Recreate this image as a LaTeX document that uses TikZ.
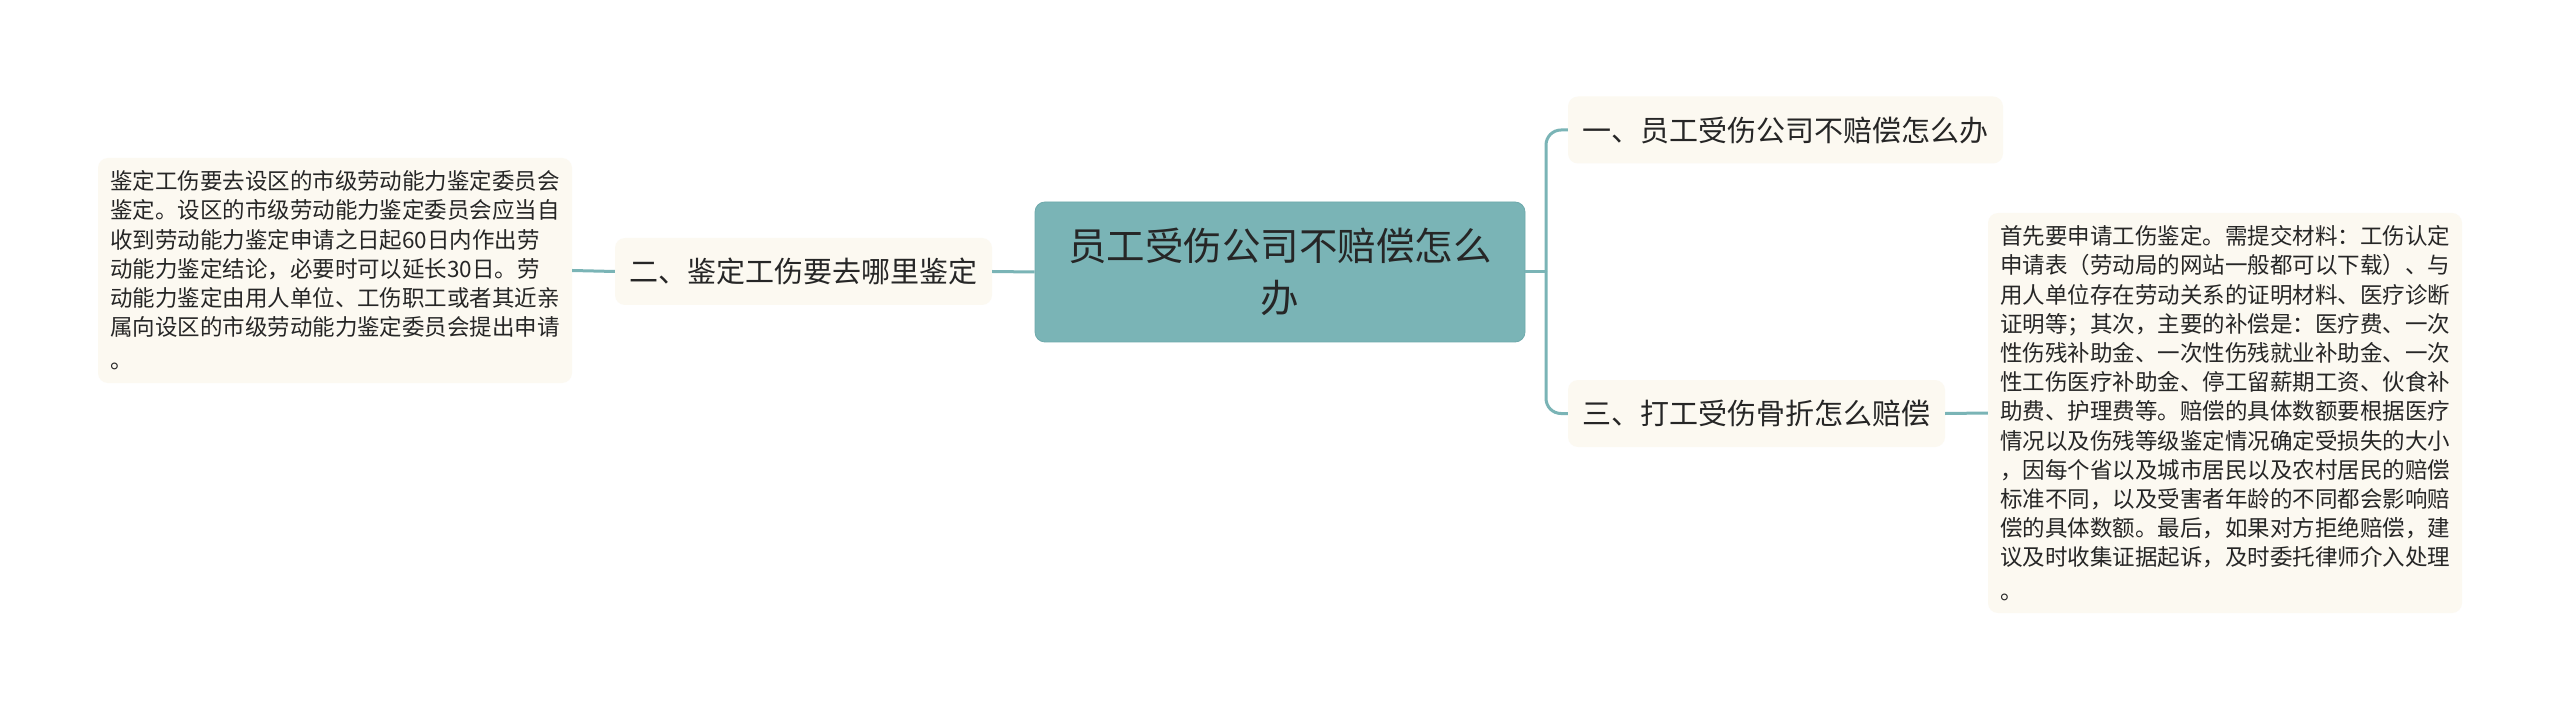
\documentclass[tikz,border=0pt]{standalone}
\usepackage{fontspec}
\setmainfont{Noto Sans CJK SC}
\definecolor{teal1}{HTML}{7AB4B6}
\definecolor{tealdark}{HTML}{6EA9AB}
\definecolor{cream}{HTML}{FCF9F1}
\definecolor{txt}{HTML}{262626}
\tikzset{
  conn/.style={draw=teal1, line width=3pt},
  rootbox/.style={fill=teal1, draw=tealdark, line width=0.8pt, rounded corners=10pt, inner sep=0pt, align=center, text=txt,
    font=\fontsize{38.5}{52}\selectfont, minimum width=490pt, minimum height=140pt},
  topic/.style={fill=cream, rounded corners=10pt, inner sep=0pt, text=txt,
    font=\fontsize{29}{36}\selectfont, minimum height=67pt},
  detail/.style={fill=cream, rounded corners=10pt, inner sep=0pt, text=txt, align=left,
    font=\fontsize{22.5}{29.2}\selectfont, minimum width=474pt}
}
\begin{document}
\begin{tikzpicture}[x=1pt,y=-1pt]
\fill[white] (0,0) rectangle (2560,711);
\useasboundingbox (0,0) rectangle (2560,711);

\node[rootbox] (root) at (1280,272) {员工受伤公司不赔偿怎么\\办};

\node[topic, minimum width=435pt] (t1) at (1785.5,130) {一、员工受伤公司不赔偿怎么办};
\node[topic, minimum width=377pt] (t2) at (803.5,271.5) {二、鉴定工伤要去哪里鉴定};
\node[topic, minimum width=377pt] (t3) at (1756.5,413.5) {三、打工受伤骨折怎么赔偿};

\node[detail, minimum height=225pt] (d2) at (335,270.5) {鉴定工伤要去设区的市级劳动能力鉴定委员会\\
鉴定。设区的市级劳动能力鉴定委员会应当自\\
收到劳动能力鉴定申请之日起60日内作出劳\\
动能力鉴定结论，必要时可以延长30日。劳\\
动能力鉴定由用人单位、工伤职工或者其近亲\\
属向设区的市级劳动能力鉴定委员会提出申请\\[4pt]
。};

\node[detail, minimum height=400pt] (d3) at (2225,413) {首先要申请工伤鉴定。需提交材料：工伤认定\\
申请表（劳动局的网站一般都可以下载）、与\\
用人单位存在劳动关系的证明材料、医疗诊断\\
证明等；其次，主要的补偿是：医疗费、一次\\
性伤残补助金、一次性伤残就业补助金、一次\\
性工伤医疗补助金、停工留薪期工资、伙食补\\
助费、护理费等。赔偿的具体数额要根据医疗\\
情况以及伤残等级鉴定情况确定受损失的大小\\
，因每个省以及城市居民以及农村居民的赔偿\\
标准不同，以及受害者年龄的不同都会影响赔\\
偿的具体数额。最后，如果对方拒绝赔偿，建\\
议及时收集证据起诉，及时委托律师介入处理\\[4pt]
。};

\coordinate (trunk) at (1546,272);
\draw[conn] (root.west) -- (t2.east);
\draw[conn] (t2.west) -- (d2.east);
\draw[conn] (root.east) -- (trunk);
\draw[conn, rounded corners=15pt] (trunk) |- (t1.west);
\draw[conn, rounded corners=15pt] (trunk) |- (t3.west);
\draw[conn] (t3.east) -- (d3.west);
\end{tikzpicture}
\end{document}
